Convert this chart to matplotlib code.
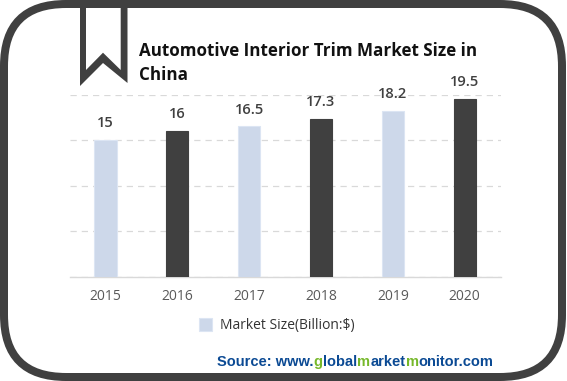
import matplotlib
matplotlib.use('Agg')
import matplotlib.pyplot as plt
from matplotlib.patches import FancyBboxPatch, Polygon

W, H = 567, 381

years = ['2015', '2016', '2017', '2018', '2019', '2020']
market_size = [15, 16, 16.5, 17.3, 18.2, 19.5]
value_labels = ['15', '16', '16.5', '17.3', '18.2', '19.5']
bar_colors = ['#CDD8EA', '#404040', '#CDD8EA', '#404040', '#CDD8EA', '#404040']
edge_colors = ['#DCE5F3', '#404040', '#DCE5F3', '#404040', '#DCE5F3', '#404040']
y_ticks = [0, 5, 10, 15, 20]

source_parts = [('Source: www.', '#0B4A94'), ('g', '#76B82A'), ('lobal', '#0B4A94'),
                ('m', '#76B82A'), ('arket', '#0B4A94'), ('m', '#76B82A'),
                ('onitor.com', '#0B4A94')]

plt.rcParams['font.family'] = ['Open Sans', 'DejaVu Sans']

fig = plt.figure(figsize=(W / 100, H / 100), dpi=100, facecolor='white')

# chart area, in pixels from the reference
ax = fig.add_axes([69.6 / W, 1 - 277 / H, 431 / W, 182.5 / H])
x = list(range(len(years)))
bars = ax.bar(x, market_size, width=0.31, color=bar_colors, edgecolor=edge_colors,
              linewidth=0.8, zorder=3, label='Market Size(Billion:$)')
ax.bar_label(bars, labels=value_labels, padding=7, fontsize=10.5, fontweight='semibold',
             color='#404040', zorder=5)
ax.set_xlim(-0.5, 5.5)
ax.set_ylim(0, 20)
ax.set_xticks(x, years)
ax.set_yticks(y_ticks)
ax.tick_params(axis='x', length=0, pad=9, labelsize=10, labelcolor='#595959')
ax.tick_params(axis='y', length=0, labelleft=False)
ax.grid(axis='y', color='#D9D9D9', lw=0.9, ls=(0, (5, 4)), zorder=0)
ax.set_axisbelow(True)
for side in ('top', 'right', 'left'):
    ax.spines[side].set_visible(False)
ax.spines['bottom'].set_color('#D9D9D9')
ax.spines['bottom'].set_linewidth(1.0)
ax.patch.set_alpha(0)

leg = fig.legend(handles=[bars], loc='center left', bbox_to_anchor=(188 / W, 1 - 325.5 / H),
                 frameon=False, fontsize=10, handlelength=0.95, handleheight=1.05,
                 handletextpad=0.55, labelcolor='#333333', borderpad=0.3)

# frame and bookmark drawn in pixel coordinates
ov = fig.add_axes([0, 0, 1, 1], zorder=-1)
ov.set_xlim(0, W)
ov.set_ylim(H, 0)
ov.axis('off')
ov.add_patch(FancyBboxPatch((4 + 62, 4 + 62), 558 - 124, 373 - 124,
                            boxstyle='round,pad=62,rounding_size=62',
                            fc='white', ec='#404040', lw=8 * 72 / 100))
ov.add_patch(Polygon([(80, 8), (80, 86), (103, 63), (127.5, 83), (127.5, 8), (120.7, 8),
                      (120.7, 70), (103, 52.7), (86, 70), (86, 8)],
                     closed=True, fc='#404040', ec='none'))

fig.text(139 / W, 1 - 55.5 / H, 'Automotive Interior Trim Market Size in', fontsize=12.25,
         fontweight='bold', color='#111111', va='baseline')
fig.text(139 / W, 1 - 79.5 / H, 'China', fontsize=12.25, fontweight='bold',
         color='#111111', va='baseline')

# multi-colour source line, each chunk placed after the previous one
renderer = fig.canvas.get_renderer()
px = 217
for part, col in source_parts:
    t = fig.text(px / W, 1 - 366 / H, part, fontsize=10.5, fontweight='bold', color=col,
                 family=['Liberation Sans', 'DejaVu Sans'], va='baseline')
    px = t.get_window_extent(renderer).x1 + 0.2

fig.savefig('out.png', dpi=100)
plt.close(fig)
